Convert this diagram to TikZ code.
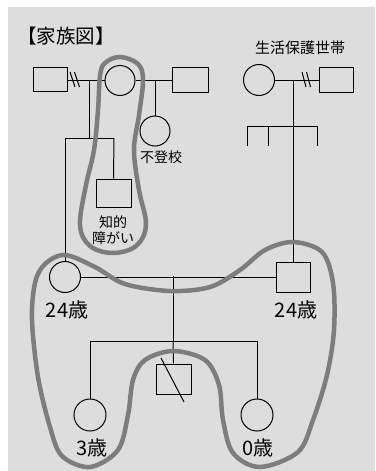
\documentclass[tikz,border=0pt]{standalone}
\usepackage{fontspec}
\setmainfont{Noto Sans CJK JP}
\definecolor{bggray}{RGB}{221,221,221}
\definecolor{loopgray}{RGB}{125,125,125}
\begin{document}
\begin{tikzpicture}[x=1pt,y=-1pt,
  line width=1pt,
  fem/.style={draw=black,circle,inner sep=0pt,minimum size=#1},
  fem/.default=31pt,
  mal/.style={draw=black,rectangle,inner sep=0pt},
  lbl/.style={inner sep=0pt,font=\fontsize{14}{15}\selectfont},
  age/.style={inner sep=0pt,font=\fontsize{20}{22}\selectfont},
  loop/.style={draw=loopgray,line width=4.5pt}]
\useasboundingbox (0,0) rectangle (375,471);
\fill[white] (0,0) rectangle (375,471);
\fill[bggray] (8,7) rectangle (375,471);

% title and labels
\node[inner sep=0pt,font=\fontsize{19.5}{21}\selectfont] (title) at (66,36) {【家族図】};
\node[inner sep=0pt,font=\fontsize{15}{16}\selectfont] (hh) at (300,48) {生活保護世帯};

% left grandparents
\node[mal,minimum width=34pt,minimum height=24pt] (m1) at (50,79.5) {};
\node[fem=30pt] (f1) at (120,80.5) {};
\node[mal,minimum width=36pt,minimum height=25pt] (m2) at (190,79.5) {};
\node[fem=30pt] (c1) at (155,131) {};
\node[lbl] (c1l) at (161,157) {不登校};
\node[mal,minimum width=35pt,minimum height=28pt] (s1) at (113.5,193) {};
\node[lbl] (s1l1) at (113,222) {知的};
\node[lbl] (s1l2) at (113,238) {障がい};

% right grandparents
\node[fem=31pt] (rgm) at (259,80) {};
\node[mal,minimum width=34pt,minimum height=25pt] (rgf) at (336,79.5) {};

% parents
\node[fem=31pt] (mom) at (65,277) {};
\node[age] (moml) at (67,310) {24歳};
\node[mal,minimum width=34pt,minimum height=30pt] (dad) at (293,277) {};
\node[age] (dadl) at (296,310) {24歳};

% children
\node[fem=32pt] (k1) at (90,415) {};
\node[age] (k1l) at (92,448) {3歳};
\node[fem=32pt] (k2) at (257,415) {};
\node[age] (k2l) at (258,448) {0歳};
\node[mal,minimum width=35pt,minimum height=30pt] (dec) at (173.5,379) {};

% junction coordinates
\coordinate (ja) at (89,80);
\coordinate (jb) at (89,138);
\coordinate (sl) at (65,138);
\coordinate (sr) at (114,138);
\coordinate (jc) at (155,80);
\coordinate (jr) at (293,80);
\coordinate (r1) at (247,126);
\coordinate (r4) at (317,126);
\coordinate (r2) at (268,126);
\coordinate (r1e) at (247,146);
\coordinate (r2e) at (268,146);
\coordinate (r4e) at (317,146);
\coordinate (pa) at (173,276);
\coordinate (pb) at (173,341);
\coordinate (kl) at (90,341);
\coordinate (kr) at (257,341);
\coordinate (d1) at (161,358);
\coordinate (d2) at (184,402);

% connectors
\draw (m1.east |- f1.west) -- (f1.west);
\draw (f1.east) -- (m2.west |- f1.east);
\draw (jc) -- (c1.north);
\draw (ja) -- (jb);
\draw (sl) -- (sr);
\draw (sl) -- (mom.north);
\draw (sr) -- (s1.north);
\draw (rgm.east) -- (rgf.west |- rgm.east);
\draw (jr) -- (dad.north);
\draw (r1) -- (r4);
\draw (r1) -- (r1e);
\draw (r2) -- (r2e);
\draw (r4) -- (r4e);
\draw (mom.east) -- (dad.west |- mom.east);
\draw (pa) -- (pb);
\draw (kl) -- (kr);
\draw (kl) -- (k1.north);
\draw (kr) -- (k2.north);
\draw (pb) -- (dec.north);
\draw (d1) -- (d2);

% divorce slashes
\draw (70,72) -- (75,87);
\draw (74.5,72) -- (79.5,87);
\draw (302,72) -- (306,87);
\draw (306.5,72) -- (310.5,87);

% household loops
\draw[loop] plot[smooth cycle,tension=0.6] coordinates {
 (120,57) (138,64) (143,80) (139,115) (134,150) (139,190) (146,225)
 (136,246) (113,253) (90,246) (80,225) (86,185) (94,150) (98,110) (100,76) (105,63)};
\draw[loop] plot[smooth cycle,tension=0.55] coordinates {
 (65,255) (95,267) (125,284) (170,291) (210,287) (240,270) (265,250)
 (293,242) (322,252) (333,283) (334,330) (327,375) (313,420) (298,452)
 (260,467) (233,453) (223,420) (219,385) (205,360) (173,351)
 (145,360) (133,380) (128,415) (118,450) (90,467) (62,456) (50,427)
 (38,377) (32,320) (35,283) (45,264)};
\end{tikzpicture}
\end{document}
